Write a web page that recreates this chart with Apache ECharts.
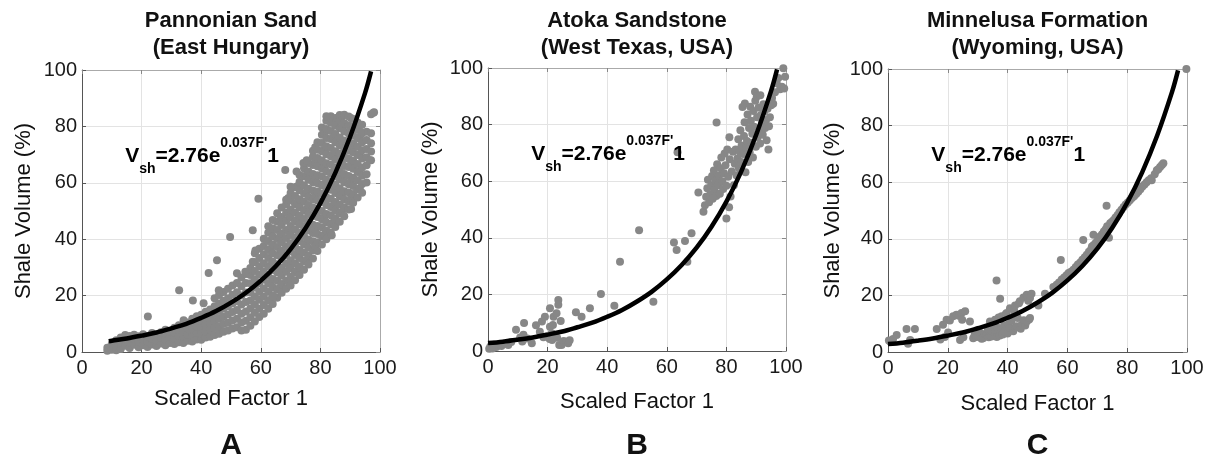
<!DOCTYPE html>
<html>
<head>
<meta charset="utf-8">
<script src="https://cdn.jsdelivr.net/npm/echarts@6/dist/echarts.min.js"></script>
<style>
  html, body { margin: 0; padding: 0; background: #fff; }
  #chart { width: 1216px; height: 461px; }
</style>
</head>
<body>
<div id="chart"></div>
<script>
// tick values shared by every axis
const ticks = [0, 20, 40, 60, 80, 100];

// fitted curve Vsh = 2.76 e^(0.037 F'1)
const fitX = [0, 5, 10, 15, 20, 25, 30, 35, 40, 45, 50, 55, 60, 65, 70, 75, 80, 85, 90, 95, 97];
const fitY = [2.8, 3.3, 4.0, 4.8, 5.8, 6.9, 8.4, 10.0, 12.1, 14.5, 17.5, 21.0, 25.3, 30.4, 36.5, 43.9, 52.8, 63.5, 76.4, 91.9, 99.5];
const fitHeadA = [9, 3.8]; // panel A curve starts here

// A: Pannonian Sand, columns of points [x, [y...]]
const sandACols = [
  [8.5, [0.4, 1.5]], [10, [0.8, 2.9]], [11.5, [0.6, 1.9, 4.2]], [13, [1.1, 3.2, 5.1]],
  [14.5, [2.2, 4.3, 6.0]], [16, [1.4, 3.5, 5.7]], [17.5, [2.6, 4.7, 6.1]], [19, [1.7, 3.8, 5.6]],
  [20.5, [2.4, 4.4, 6.3]], [22, [1.8, 3.7, 5.5]], [23.5, [2.7, 4.8, 6.7]], [25, [2.1, 4.0, 6.0]],
  [26.5, [3.0, 5.0, 7.0]], [28, [2.4, 4.4, 6.5, 7.9]], [29.5, [3.2, 5.3, 7.4]], [31, [2.8, 4.8, 6.9, 8.6]],
  [32.5, [3.5, 5.7, 7.8, 9.5]], [34, [3.2, 5.3, 7.4, 9.6]], [35.5, [4.0, 6.2, 8.4, 10.5]],
  [37, [3.7, 5.9, 8.1, 10.3, 11.8]], [38.5, [4.4, 6.7, 9.0, 11.2, 12.7]], [40, [4.3, 6.5, 8.8, 11.0, 13.2]],
  [41.5, [5.1, 7.4, 9.7, 12.1, 14.3]], [43, [5.4, 7.9, 10.3, 12.8, 15.1]],
  [44.5, [6.0, 8.5, 11.0, 13.6, 16.2, 19.1]], [46, [6.5, 9.1, 11.8, 14.5, 17.2, 20.2]],
  [47.5, [7.2, 9.9, 12.6, 15.4, 18.2, 21.3]], [49, [7.6, 10.4, 13.3, 16.2, 19.1, 22.4]],
  [50.5, [8.3, 11.2, 14.2, 17.2, 20.3, 23.6]], [52, [8.8, 11.8, 14.9, 18.0, 21.2, 24.5]],
  [53.5, [7.6, 10.5, 13.6, 16.8, 20.0, 23.3, 26.4]], [55, [7.9, 11.1, 14.4, 17.7, 21.1, 24.5, 27.7]],
  [56.5, [9.3, 12.3, 15.4, 18.3, 21.2, 24.4, 27.3, 29.8]],
  [58, [10.8, 13.9, 16.8, 19.7, 22.9, 25.8, 28.7, 31.8, 35.0]],
  [59.5, [12.4, 15.3, 18.5, 21.4, 24.3, 27.5, 30.4, 33.3, 36.6]],
  [61, [13.6, 16.7, 19.6, 22.5, 25.7, 28.6, 31.5, 34.7, 37.6, 40.2]],
  [62.5, [15.3, 18.2, 21.4, 24.3, 27.2, 30.4, 33.3, 36.2, 39.4, 42.3, 44.6]],
  [63.25, [18.5, 24.6, 30.6, 36.6, 42.5]],
  [64, [17.0, 20.1, 23.0, 25.9, 29.1, 32.0, 34.9, 38.1, 41.0, 43.9, 46.8]],
  [65.5, [19.2, 22.1, 25.3, 28.2, 31.1, 34.3, 37.2, 40.1, 43.3, 46.2, 49.2]],
  [66.25, [22.7, 28.8, 34.7, 40.7, 46.6]],
  [67, [21.0, 24.1, 27.0, 29.9, 33.1, 36.0, 38.9, 42.1, 45.0, 47.9, 51.2]],
  [68.5, [22.4, 25.3, 28.5, 31.4, 34.3, 37.5, 40.4, 43.3, 46.5, 49.4, 52.3, 54.0]],
  [69.25, [25.0, 31.0, 37.0, 43.1, 49.0, 54.6]],
  [70, [23.6, 26.7, 29.6, 32.5, 35.7, 38.6, 41.5, 44.7, 47.6, 50.5, 53.7, 56.4]],
  [71.5, [25.4, 28.3, 31.5, 34.4, 37.3, 40.5, 43.4, 46.3, 49.5, 52.4, 55.3, 58.4]],
  [72.25, [28.9, 34.9, 40.9, 46.9, 52.9, 58.8]],
  [73, [27.3, 30.4, 33.3, 36.2, 39.4, 42.3, 45.2, 48.4, 51.3, 54.2, 57.4, 60.3, 62.8]],
  [74.5, [29.2, 32.1, 35.3, 38.2, 41.1, 44.3, 47.2, 50.1, 53.3, 56.2, 59.1, 62.3, 65.2]],
  [75.25, [32.6, 38.6, 44.6, 50.6, 56.6, 62.6]],
  [76, [31.0, 34.1, 37.0, 39.9, 43.1, 46.0, 48.9, 52.1, 55.0, 57.9, 61.1, 64.0, 67.0]],
  [77.5, [33.2, 36.1, 39.3, 42.2, 45.1, 48.3, 51.2, 54.1, 57.3, 60.2, 63.1, 66.3, 69.2, 71.4]],
  [78.25, [37.5, 43.4, 49.4, 55.4, 61.4, 67.4, 72.6]],
  [79, [35.8, 38.9, 41.8, 44.7, 47.9, 50.8, 53.7, 56.9, 59.8, 62.7, 65.9, 68.8, 71.7, 74.4]],
  [80.5, [38.1, 41.0, 44.2, 47.1, 50.0, 53.2, 56.1, 59.0, 62.2, 65.1, 68.0, 71.2, 74.1, 77.0, 79.6]],
  [81.25, [41.6, 47.6, 53.6, 59.6, 65.6, 71.6, 77.6]],
  [82, [40.0, 43.1, 46.0, 48.9, 52.1, 55.0, 57.9, 61.1, 64.0, 66.9, 70.1, 73.0, 75.9, 79.1, 82.0]],
  [83.5, [42.4, 45.3, 48.5, 51.4, 54.3, 57.5, 60.4, 63.3, 66.5, 69.4, 72.3, 75.5, 78.4, 81.3, 83.6]],
  [84.25, [45.9, 51.9, 57.9, 63.9, 69.9, 75.9, 81.8]],
  [85, [44.3, 47.4, 50.3, 53.2, 56.4, 59.3, 62.2, 65.4, 68.3, 71.2, 74.4, 77.3, 80.2, 83.0]],
  [86.5, [46.2, 49.1, 52.3, 55.2, 58.1, 61.3, 64.2, 67.1, 70.3, 73.2, 76.1, 79.3, 82.2, 84.0]],
  [87.25, [49.7, 55.7, 61.7, 67.7, 73.7, 79.7, 83.4]],
  [88, [48.1, 51.2, 54.1, 57.0, 60.2, 63.1, 66.0, 69.2, 72.1, 75.0, 78.2, 81.1, 84.1]],
  [89.5, [50.5, 53.4, 56.6, 59.5, 62.4, 65.6, 68.5, 71.4, 74.6, 77.5, 80.4, 83.5]],
  [90.25, [54.5, 60.5, 66.5, 72.5, 78.5, 83.0]],
  [91, [52.9, 56.0, 58.9, 61.8, 65.0, 67.9, 70.8, 74.0, 76.9, 79.8, 82.6]],
  [92.5, [54.8, 57.7, 60.9, 63.8, 66.7, 69.9, 72.8, 75.7, 78.9, 81.4]],
  [93.25, [58.2, 64.2, 70.2, 76.2, 80.4]],
  [94, [56.5, 59.6, 62.5, 65.4, 68.6, 71.5, 74.4, 77.6, 80.6]],
  [95.5, [60.1, 63.0, 66.2, 69.1, 72.0, 75.2, 78.1]],
  [97, [68.0, 71.1, 74.0, 77.6, 84.3]],
  [98, [85.0]]
];
const sandAOutliers = [
  [22.1, 12.6], [32.6, 21.9], [37.2, 18.3], [34.1, 11.3], [40.8, 17.3], [42.5, 28.0], [45.3, 32.5],
  [45.9, 21.9], [49.7, 40.8], [52.0, 27.9], [54.8, 28.5], [57.3, 43.2], [57.3, 32.0], [58.2, 36.0],
  [59.2, 54.3], [64.2, 19.8], [68.2, 64.5], [74.3, 67.0], [75.4, 68.0], [72.0, 64.0], [83.8, 41.4],
  [90.3, 50.7], [97.8, 84.8], [93.6, 78.0], [96.6, 68.0], [70.0, 58.6], [83.0, 83.2], [82.0, 83.6]
];

// B: Atoka Sandstone
const atokaB = [
  [0.4, 0.8], [0.8, 1.6], [1.5, 0.9], [1.9, 2.2], [2.8, 1.4], [3.6, 2.1], [4.5, 1.8], [5.2, 2.6],
  [6.8, 2.1], [7.8, 3.2], [9.4, 7.5], [10.8, 4.8], [11.5, 3.4], [12.1, 9.9], [11.9, 5.7], [13.2, 4.4],
  [14.7, 2.7], [16.1, 9.1], [17.4, 6.8], [18.1, 10.4], [18.6, 4.9], [19.1, 12.1], [19.8, 5.1],
  [20.8, 8.6], [20.7, 4.2], [20.8, 15.1], [21.4, 6.3], [21.5, 3.9], [21.8, 9.2], [22.0, 12.1],
  [23.0, 13.3], [23.2, 4.7], [23.6, 18.0], [23.6, 16.3], [23.9, 2.1], [24.4, 10.6], [24.7, 2.1],
  [25.4, 3.5], [26.4, 3.3], [26.9, 2.7], [27.4, 3.8], [29.5, 13.7], [31.4, 12.1], [34.2, 15.1],
  [37.9, 20.1], [42.4, 16.0], [44.3, 31.5], [50.7, 42.7], [55.5, 17.4], [62.4, 38.3], [63.3, 35.7],
  [63.6, 70.2], [66.1, 38.9], [66.9, 31.5], [68.3, 41.6],
  [70.6, 56.0], [72.3, 49.2], [72.8, 51.5], [73.2, 54.5], [73.6, 57.5], [73.8, 60.5], [74.2, 52.6],
  [74.6, 55.4], [74.9, 58.6], [75.2, 61.8], [75.4, 53.8], [75.8, 63.8], [76.0, 57.0], [76.3, 60.2],
  [76.6, 54.8], [76.7, 80.7], [76.9, 66.0], [77.2, 58.6], [77.5, 62.0], [77.8, 55.6], [78.1, 64.6],
  [78.3, 68.4], [78.6, 60.0], [78.9, 57.2], [79.2, 62.8], [79.4, 69.8], [79.7, 65.6], [80.0, 46.8],
  [80.0, 58.4], [80.3, 71.2], [80.6, 61.6], [80.9, 50.8], [81.1, 67.8], [81.4, 54.6], [81.0, 75.5],
  [81.8, 63.4], [82.2, 70.4], [82.5, 58.6], [82.8, 66.2],
  [83.1, 71.2], [83.4, 62.0], [83.7, 68.0], [84.0, 74.8], [84.2, 64.6], [84.5, 70.4], [84.7, 78.0],
  [85.0, 66.8], [85.1, 72.6], [85.4, 86.2], [85.6, 69.6], [85.9, 76.0], [86.1, 80.8], [86.2, 87.5],
  [86.4, 63.2], [86.7, 71.8], [86.9, 74.2], [87.1, 83.6], [87.3, 66.8], [87.6, 78.8], [87.8, 70.2],
  [88.0, 86.3], [88.2, 81.4], [88.4, 73.6], [88.7, 76.8], [88.9, 68.4], [89.1, 84.8], [89.3, 79.2],
  [89.6, 91.6], [89.7, 88.4], [89.9, 72.2], [90.2, 89.9], [90.3, 82.6], [90.5, 75.6], [90.8, 86.0],
  [91.0, 78.4], [91.3, 73.3], [91.4, 90.4], [91.6, 83.4], [91.9, 80.4], [92.2, 76.4], [92.4, 87.2],
  [92.7, 84.6], [93.0, 78.8], [93.3, 81.6], [93.5, 74.5], [93.8, 85.6], [94.1, 71.2], [94.3, 79.4],
  [94.6, 82.6], [95.0, 86.8], [95.3, 89.4], [95.7, 87.4], [96.3, 91.4], [96.9, 94.6], [97.4, 96.5],
  [98.0, 92.5], [98.6, 93.4], [99.1, 99.9], [99.7, 96.9], [99.4, 92.8]
];

// C: Minnelusa Formation
const minnelusaC = [
  [0.3, 4.1], [0.7, 3.7], [1.7, 4.6], [2.9, 6.0], [6.2, 8.1], [6.7, 2.9], [7.4, 4.2], [9.0, 8.1],
  [16.3, 8.1], [17.5, 4.4], [18.4, 9.6], [19.0, 5.3], [19.6, 11.4], [20.1, 6.9], [20.7, 11.1],
  [21.8, 12.6], [22.9, 13.2], [23.7, 12.8], [24.1, 4.2], [24.6, 13.8], [24.8, 11.4], [25.2, 5.2],
  [25.8, 14.4], [27.4, 10.8],
  [28.5, 4.9], [29.0, 6.2], [29.6, 5.3], [30.2, 5.5], [30.8, 6.8], [31.3, 4.7], [31.8, 4.9],
  [32.4, 6.4], [33.0, 6.1], [33.4, 8.1], [33.7, 5.2], [34.1, 10.8], [34.6, 5.5], [35.0, 7.4],
  [35.3, 9.6], [35.8, 6.7], [35.8, 11.4], [36.3, 25.3], [36.4, 5.3], [36.7, 8.6], [37.0, 12.2],
  [37.4, 5.8], [37.5, 18.8], [37.8, 7.9], [38.0, 12.6], [38.4, 6.2], [38.8, 9.4], [39.1, 7.3],
  [39.4, 13.4], [39.7, 13.8], [40.0, 6.5], [40.3, 9.8], [40.8, 8.5], [40.8, 15.5], [41.3, 11.0],
  [41.9, 7.3], [42.2, 14.5], [42.5, 16.4], [42.6, 8.7], [43.0, 9.1], [43.4, 12.0], [43.8, 17.2],
  [44.1, 17.9], [44.4, 8.2], [44.7, 9.6], [45.3, 19.3], [45.4, 11.2], [45.9, 9.4], [46.4, 10.8],
  [46.4, 20.2], [46.9, 18.1], [47.2, 11.5], [47.5, 12.0], [47.5, 19.1], [48.0, 20.6], [50.3, 16.4],
  [52.5, 20.6],
  [55.3, 23.0], [56.4, 23.8], [57.2, 24.6], [57.8, 32.5], [58.1, 25.6], [58.9, 26.3], [59.7, 27.1],
  [60.4, 27.9], [61.2, 28.4], [62.0, 29.1], [62.8, 30.0], [63.5, 30.9], [64.3, 31.6], [65.0, 32.6],
  [65.3, 39.6], [65.8, 33.5], [66.5, 34.4], [67.2, 35.4], [67.9, 36.2], [68.2, 37.3], [68.7, 41.4],
  [68.8, 37.8], [69.5, 38.6], [70.2, 39.6], [70.9, 40.8], [71.6, 41.6], [72.2, 42.6], [72.8, 43.4],
  [73.1, 51.7], [73.3, 44.4], [73.9, 40.4], [74.3, 45.5], [74.9, 46.0], [75.5, 46.6], [76.1, 47.5],
  [76.8, 48.4], [77.4, 49.4], [78.1, 50.3], [78.8, 51.2], [79.5, 52.1], [80.2, 52.8], [80.9, 53.6],
  [81.6, 54.4], [82.3, 55.0], [83.0, 55.8], [83.7, 56.6], [84.4, 57.5], [84.8, 58.4], [85.1, 58.5],
  [85.8, 59.2], [86.5, 60.0], [87.2, 60.7], [88.0, 61.4], [88.2, 60.7], [89.2, 62.8], [89.9, 64.2],
  [90.4, 64.6], [91.0, 65.4], [91.6, 66.1], [92.1, 66.7], [99.8, 100.0]
];

const fitPairs = fitX.map((x, i) => [x, fitY[i]]);
const sandA = sandACols.flatMap(([x, ys]) => ys.map(y => [x, y])).concat(sandAOutliers);
const fitA = [fitHeadA].concat(fitPairs.filter(p => p[0] >= 10));

const FONT = '"Liberation Sans", Arial, Helvetica, sans-serif';
const panels = [
  { title: 'Pannonian Sand\n(East Hungary)', letter: 'A', pts: sandA, fit: fitA,
    grid: { left: 82, top: 70, width: 298, height: 282 }, xGap: 36, yGap: 47 },
  { title: 'Atoka Sandstone\n(West Texas, USA)', letter: 'B', pts: atokaB, fit: fitPairs,
    grid: { left: 488, top: 68, width: 298, height: 283 }, xGap: 40, yGap: 46 },
  { title: 'Minnelusa Formation\n(Wyoming, USA)', letter: 'C', pts: minnelusaC, fit: fitPairs,
    grid: { left: 888, top: 69, width: 299, height: 283 }, xGap: 41, yGap: 44 }
];

const mainAxis = (i, name, gap, pos) => ({
  type: 'value', gridIndex: i, position: pos, min: ticks[0], max: ticks[ticks.length - 1], interval: 20,
  name, nameLocation: 'middle', nameGap: gap,
  nameTextStyle: { fontSize: 22, color: '#111', fontFamily: FONT },
  axisLine: { show: true, onZero: false, lineStyle: { color: '#555', width: 1 } },
  axisTick: { show: true, inside: true, length: 4, lineStyle: { color: '#555' } },
  axisLabel: { fontSize: 20, color: '#1a1a1a', margin: pos === 'left' ? 5 : 6, fontFamily: FONT },
  splitLine: { show: true, lineStyle: { color: '#e3e3e3', width: 1 } }
});
const boxAxis = (i, pos) => ({
  type: 'value', gridIndex: i, position: pos, min: 0, max: 100, interval: 20,
  axisLine: { show: true, onZero: false, lineStyle: { color: '#aaa', width: 1 } },
  axisTick: { show: true, inside: true, length: 4, lineStyle: { color: '#888' } },
  axisLabel: { show: false }, splitLine: { show: false }
});

const xAxis = [], yAxis = [], series = [], grid = [], graphic = [];
panels.forEach((p, i) => {
  grid.push(Object.assign({ containLabel: false }, p.grid));
  xAxis.push(mainAxis(i, 'Scaled Factor 1', p.xGap, 'bottom'));
  yAxis.push(mainAxis(i, 'Shale Volume (%)', p.yGap, 'left'));
  const cx = p.grid.left + p.grid.width / 2;
  graphic.push({
    type: 'text', x: cx, y: 34, silent: true,
    style: { text: p.title, font: 'bold 22px ' + FONT, fill: '#111', textAlign: 'center',
      textVerticalAlign: 'middle', verticalAlign: 'middle', lineHeight: 27 }
  });
  graphic.push({
    type: 'text', x: cx, y: 446, silent: true,
    style: { text: p.letter, font: 'bold 30px ' + FONT, fill: '#111', textAlign: 'center',
      textVerticalAlign: 'middle', verticalAlign: 'middle' }
  });
});
panels.forEach((p, i) => {
  xAxis.push(boxAxis(i, 'top'));
  yAxis.push(boxAxis(i, 'right'));
});

panels.forEach((p, i) => {
  series.push({
    type: 'scatter', xAxisIndex: i, yAxisIndex: i, data: p.pts, symbolSize: 8,
    itemStyle: { color: '#878787', opacity: 1 }, silent: true, z: 2
  });
  series.push({
    type: 'line', xAxisIndex: i, yAxisIndex: i, data: p.fit, smooth: 0.35, showSymbol: false,
    symbol: 'none', lineStyle: { color: '#000', width: 4.5 }, silent: true, z: 3,
    markPoint: {
      symbol: 'circle', symbolSize: 0, silent: true, animation: false,
      data: [{ coord: [14.5, 69.5] }],
      label: {
        show: true, position: 'right', distance: 0, color: '#000',
        formatter: "{v|V}{s|sh}{m|=2.76e}{p|0.037F'}{m|1}",
        rich: {
          v: { fontSize: 21, fontWeight: 'bold', fontFamily: FONT, lineHeight: 40, verticalAlign: 'middle' },
          m: { fontSize: 21, fontWeight: 'bold', fontFamily: FONT, lineHeight: 40, verticalAlign: 'middle' },
          s: { fontSize: 14, fontWeight: 'bold', fontFamily: FONT, lineHeight: 20, verticalAlign: 'bottom' },
          p: { fontSize: 14, fontWeight: 'bold', fontFamily: FONT, lineHeight: 14, verticalAlign: 'top' }
        }
      }
    }
  });
});

const chart = echarts.init(document.getElementById('chart'));
chart.setOption({
  backgroundColor: '#fff',
  animation: false,
  textStyle: { fontFamily: FONT },
  grid, xAxis, yAxis, series, graphic
});
</script>
</body>
</html>
